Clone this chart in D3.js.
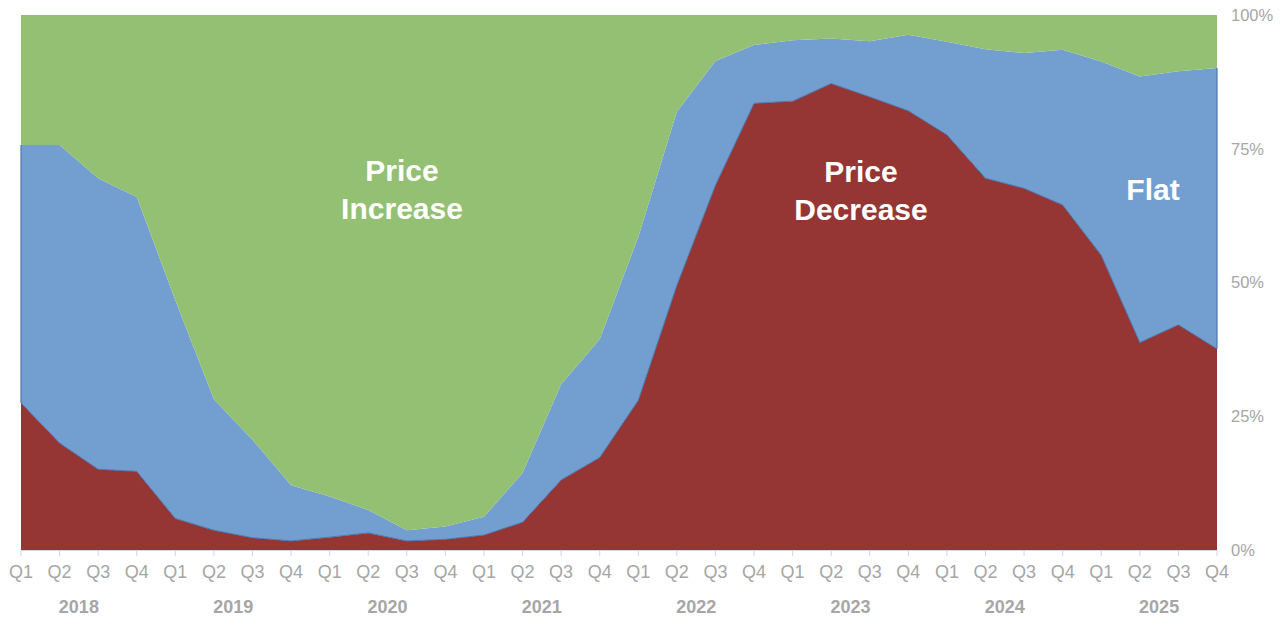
<!DOCTYPE html>
<html>
<head>
<meta charset="utf-8">
<script src="https://cdn.jsdelivr.net/npm/d3@7"></script>
<style>
  html, body { margin: 0; padding: 0; background: #ffffff; }
  svg { display: block; font-family: "Liberation Sans", Arial, sans-serif; }
</style>
</head>
<body>
<svg id="chart" width="1286" height="627"></svg>
<script>
// ---- data ----
const years = ["2018", "2019", "2020", "2021", "2022", "2023", "2024", "2025"];
const quarterNames = ["Q1", "Q2", "Q3", "Q4"];
const periods = years.flatMap(y => quarterNames.map(q => y + " " + q));

const priceDecrease = [27.5, 20.0, 15.1, 14.7, 5.9, 3.7, 2.3, 1.7,
                       2.4, 3.2, 1.7, 2.0, 2.8, 5.2, 13.1, 17.3,
                       28.0, 49.5, 68.2, 83.5, 83.9, 87.2, 84.7, 82.1,
                       77.6, 69.5, 67.6, 64.5, 55.1, 38.8, 42.1, 37.6];
const flat = [48.2, 55.7, 54.4, 51.3, 40.8, 24.5, 18.3, 10.4,
              7.6, 4.3, 2.0, 2.4, 3.4, 9.2, 17.9, 22.1,
              30.5, 32.4, 23.2, 10.9, 11.4, 8.4, 10.4, 14.2,
              17.4, 24.1, 25.3, 29.0, 36.2, 49.7, 47.4, 52.5];
const priceIncrease = [24.3, 24.3, 30.5, 34.0, 53.3, 71.8, 79.4, 87.9,
                       90.0, 92.5, 96.3, 95.6, 93.8, 85.6, 69.0, 60.6,
                       41.5, 18.1, 8.6, 5.6, 4.7, 4.4, 4.9, 3.7,
                       5.0, 6.4, 7.1, 6.5, 8.7, 11.5, 10.5, 9.9];
const yTicks = [0, 25, 50, 75, 100];

const seriesKeys = ["decrease", "flat", "increase"];
const colors = { decrease: "#953634", flat: "#729fcf", increase: "#93c072" };

const rows = periods.map((p, i) => ({
  period: p,
  decrease: priceDecrease[i],
  flat: flat[i],
  increase: priceIncrease[i]
}));

// ---- layout ----
const svg = d3.select("#chart");
const plotLeft = 21, plotRight = 1217, plotTop = 15, plotBottom = 550;

const x = d3.scalePoint().domain(periods).range([plotLeft, plotRight]);
const y = d3.scaleLinear().domain([0, 100]).range([plotBottom, plotTop]);

const stack = d3.stack().keys(seriesKeys)
  .offset(d3.stackOffsetExpand);
const stacked = stack(rows);

const area = d3.area()
  .x(d => x(d.data.period))
  .y0(d => y(d[0] * 100))
  .y1(d => y(d[1] * 100));

svg.append("g").selectAll("path")
  .data(stacked)
  .join("path")
  .attr("d", area)
  .attr("fill", d => colors[d.key]);

// thin dark-blue border of the flat series along the decrease boundary and edges
const redTop = stacked[0];
const blueTop = stacked[1];
const borderLine = d3.line()
  .x(d => x(d.data.period))
  .y(d => y(d[1] * 100));
svg.append("path")
  .attr("d", borderLine(redTop))
  .attr("fill", "none")
  .attr("stroke", "#4a78b0")
  .attr("stroke-width", 1);
[0, periods.length - 1].forEach(i => {
  svg.append("line")
    .attr("x1", x(periods[i])).attr("x2", x(periods[i]))
    .attr("y1", y(redTop[i][1] * 100)).attr("y2", y(blueTop[i][1] * 100))
    .attr("stroke", "#4a78b0").attr("stroke-width", 1.2);
});

// ---- x axis ----
const axisColor = "#d4d4e4";
svg.append("line")
  .attr("x1", plotLeft).attr("x2", plotRight)
  .attr("y1", plotBottom + 0.5).attr("y2", plotBottom + 0.5)
  .attr("stroke", axisColor).attr("stroke-width", 1.2);

const xg = svg.append("g");
xg.selectAll("line.tick")
  .data(periods)
  .join("line")
  .attr("class", "tick")
  .attr("x1", d => x(d)).attr("x2", d => x(d))
  .attr("y1", plotBottom).attr("y2", plotBottom + 6)
  .attr("stroke", axisColor).attr("stroke-width", 1);

xg.selectAll("text.q")
  .data(periods)
  .join("text")
  .attr("class", "q")
  .attr("x", d => x(d))
  .attr("y", 578)
  .attr("text-anchor", "middle")
  .attr("font-size", 18)
  .attr("fill", "#a6a6a6")
  .text(d => d.split(" ")[1]);

xg.selectAll("text.yr")
  .data(years)
  .join("text")
  .attr("class", "yr")
  .attr("x", yr => (x(yr + " Q2") + x(yr + " Q3")) / 2)
  .attr("y", 613)
  .attr("text-anchor", "middle")
  .attr("font-size", 18)
  .attr("font-weight", "bold")
  .attr("fill", "#a6a6a6")
  .text(d => d);

// ---- right y axis labels ----
svg.append("g").selectAll("text")
  .data(yTicks)
  .join("text")
  .attr("x", 1231)
  .attr("y", d => y(d))
  .attr("dy", "0.35em")
  .attr("font-size", 16.5)
  .attr("fill", "#a6a6a6")
  .text(d => d + "%");

// ---- in-chart labels ----
const labels = [
  { lines: ["Price", "Increase"], cx: 402, y0: 181 },
  { lines: ["Price", "Decrease"], cx: 861, y0: 182 },
  { lines: ["Flat"], cx: 1153, y0: 200 }
];
labels.forEach(l => {
  const t = svg.append("text")
    .attr("text-anchor", "middle")
    .attr("font-size", 30)
    .attr("font-weight", "bold")
    .attr("fill", "#ffffff");
  l.lines.forEach((s, i) => {
    t.append("tspan")
      .attr("x", l.cx)
      .attr("y", l.y0 + i * 38)
      .text(s);
  });
});
</script>
</body>
</html>
